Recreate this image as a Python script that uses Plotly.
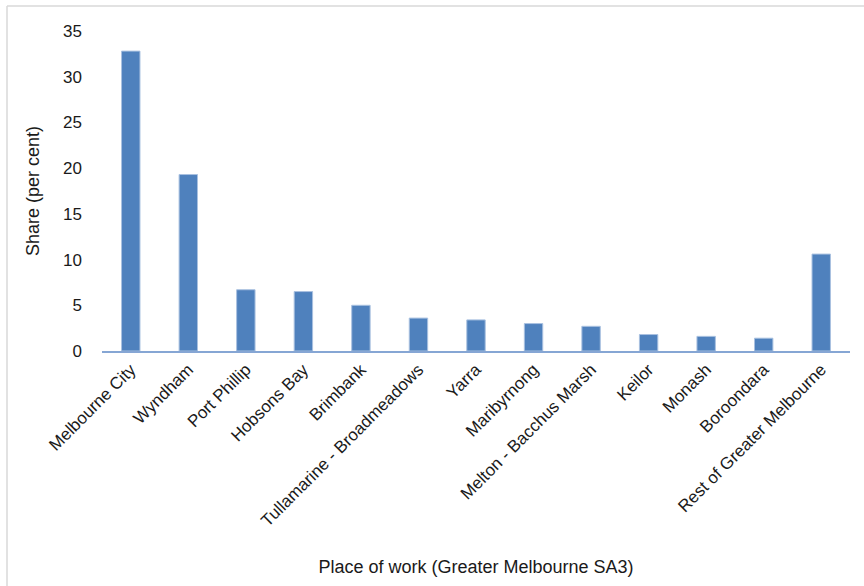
import plotly.graph_objects as go

categories = ["Melbourne City", "Wyndham", "Port Phillip", "Hobsons Bay", "Brimbank",
              "Tullamarine - Broadmeadows", "Yarra", "Maribyrnong", "Melton - Bacchus Marsh",
              "Keilor", "Monash", "Boroondara", "Rest of Greater Melbourne"]
share = [32.8, 19.3, 6.7, 6.5, 5.0, 3.6, 3.4, 3.0, 2.7, 1.8, 1.6, 1.4, 10.6]
y_ticks = [0, 5, 10, 15, 20, 25, 30, 35]

FONT = "Liberation Sans, Arial, sans-serif"
W, H = 864, 586
L, R, T, B = 102, 14, 31, 235

fig = go.Figure(go.Bar(
    x=categories, y=share,
    marker=dict(color="#4F81BD", line=dict(color="#A9C1E0", width=1)),
))

fig.update_layout(
    width=W, height=H,
    margin=dict(l=L, r=R, t=T, b=B, autoexpand=False),
    paper_bgcolor="white", plot_bgcolor="white",
    bargap=0.68,
    showlegend=False,
    font=dict(family=FONT, size=16, color="#1a1a1a"),
    xaxis=dict(
        tickangle=-45, tickfont=dict(size=17),
        showline=True, linecolor="#86A6D4", linewidth=2,
        ticks="", showgrid=False, automargin=False,
        title=dict(text="Place of work (Greater Melbourne SA3)", font=dict(size=18), standoff=31),
    ),
    yaxis=dict(
        range=[0, 35], tickvals=y_ticks, tickfont=dict(size=17),
        showline=False, showgrid=False, zeroline=False, ticks="",
        ticklabelstandoff=19, automargin=False,
        title=dict(text="Share (per cent)", font=dict(size=18), standoff=18),
    ),
)

# outer chart frame (left and top edges visible)
pw = W - L - R
ph = H - T - B
x_left = (7 - L) / pw
y_top = (H - B - 6) / ph
fig.add_shape(type="line", xref="paper", yref="paper", x0=x_left, x1=1.2, y0=y_top, y1=y_top,
              line=dict(color="#D9D9D9", width=1.5))
fig.add_shape(type="line", xref="paper", yref="paper", x0=x_left, x1=x_left, y0=y_top, y1=-1.0,
              line=dict(color="#D9D9D9", width=1.5))

fig.write_html("out.html", config={"displayModeBar": False},
               post_script="document.body.style.margin='0px';")
